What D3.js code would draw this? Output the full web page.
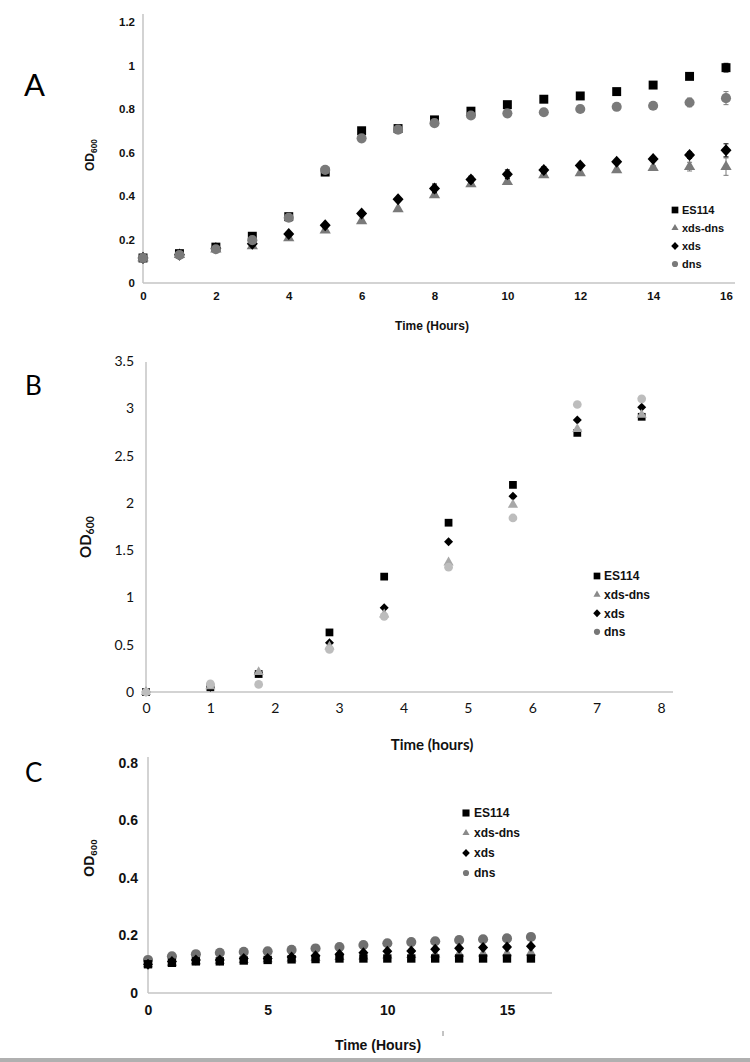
<!DOCTYPE html>
<html><head><meta charset="utf-8">
<script src="https://cdn.jsdelivr.net/npm/d3@7"></script>
<style>body{margin:0;background:#fff}svg{display:block}</style>
</head><body>
<svg id="c" width="750" height="1062"></svg>
<script>
// ---------- DATA ----------
const seriesNames = ["ES114", "xds-dns", "xds", "dns"];

// Panel A
const timeA = [0,1,2,3,4,5,6,7,8,9,10,11,12,13,14,15,16];
const A_ES114 = [0.115,0.135,0.165,0.215,0.305,0.51,0.70,0.71,0.75,0.79,0.82,0.845,0.86,0.88,0.91,0.95,0.99];
const A_xdsdns = [0.115,0.13,0.155,0.17,0.207,0.243,0.285,0.34,0.405,0.455,0.465,0.497,0.506,0.52,0.53,0.535,0.535];
const A_xds = [0.115,0.13,0.16,0.18,0.225,0.265,0.32,0.385,0.435,0.476,0.50,0.52,0.54,0.557,0.57,0.588,0.61];
const A_dns = [0.115,0.129,0.155,0.197,0.30,0.52,0.665,0.705,0.735,0.77,0.78,0.785,0.80,0.81,0.815,0.83,0.85];
const A_ES114_err = [0,0,0,0,0,0,0,0,0,0,0,0,0,0,0,0,0.02];
const A_xdsdns_err = [0,0,0,0,0,0,0,0,0,0,0,0,0,0,0.01,0.02,0.04];
const A_xds_err = [0,0,0,0,0,0,0,0,0.02,0.015,0.02,0.015,0,0,0,0.015,0.03];
const A_dns_err = [0,0,0,0,0,0,0,0,0,0,0.015,0.015,0,0,0,0.02,0.03];
const A_yTicks = [0,0.2,0.4,0.6,0.8,1,1.2];
const A_xTicks = [0,2,4,6,8,10,12,14,16];

// Panel B
const timeB = [0,1,1.75,2.85,3.7,4.7,5.7,6.7,7.7];
const B_ES114 = [0,0.05,0.19,0.63,1.22,1.79,2.19,2.74,2.91];
const B_xdsdns = [0,0.06,0.21,0.48,0.82,1.37,1.98,2.78,2.93];
const B_xds = [0,0.05,0.2,0.52,0.89,1.59,2.07,2.875,3.01];
const B_dns = [0,0.085,0.08,0.45,0.80,1.32,1.84,3.04,3.10];
const B_yTicks = [0,0.5,1,1.5,2,2.5,3,3.5];
const B_xTicks = [0,1,2,3,4,5,6,7,8];

// Panel C
const timeC = [0,1,2,3,4,5,6,7,8,9,10,11,12,13,14,15,16];
const C_ES114 = [0.10,0.105,0.11,0.11,0.113,0.115,0.117,0.118,0.12,0.12,0.12,0.12,0.12,0.12,0.12,0.12,0.12];
const C_xdsdns = [0.10,0.105,0.11,0.112,0.115,0.117,0.12,0.122,0.125,0.127,0.13,0.132,0.134,0.136,0.137,0.138,0.14];
const C_xds = [0.10,0.11,0.115,0.115,0.12,0.12,0.125,0.13,0.135,0.14,0.145,0.146,0.152,0.156,0.158,0.16,0.163];
const C_dns = [0.115,0.128,0.135,0.14,0.143,0.145,0.15,0.155,0.16,0.167,0.173,0.177,0.18,0.184,0.187,0.19,0.195];
const C_yTicks = [0,0.2,0.4,0.6,0.8];
const C_xTicks = [0,5,10,15];

// ---------- DRAWING ----------
const svg = d3.select("#c");
const axisColor = "#c4c4c4";

// size: for diamond -> [halfWidth, halfHeight]; else d3 symbol area
function marker(g, shape, x, y, size, fill) {
  let d;
  if (shape === "diamond") {
    const w = size[0], h = size[1];
    const p = d3.path();
    p.moveTo(0, -h); p.lineTo(w, 0); p.lineTo(0, h); p.lineTo(-w, 0); p.closePath();
    d = p.toString();
  } else {
    const sym = {square: d3.symbolSquare, triangle: d3.symbolTriangle, circle: d3.symbolCircle}[shape];
    d = d3.symbol().type(sym).size(size)();
  }
  g.append("path").attr("d", d).attr("transform", `translate(${x},${y})`).attr("fill", fill);
}

function panel(cfg) {
  const g = svg.append("g");
  const x = d3.scaleLinear().domain(cfg.xDomain).range([cfg.x0, cfg.x1]);
  const y = d3.scaleLinear().domain(cfg.yDomain).range([cfg.y0, cfg.y1]);
  g.append("line").attr("x1", cfg.x0).attr("x2", cfg.x0).attr("y1", cfg.y0).attr("y2", cfg.yTop)
    .attr("stroke", axisColor).attr("stroke-width", 1.5);
  g.append("line").attr("x1", cfg.x0).attr("x2", cfg.xEnd).attr("y1", cfg.y0).attr("y2", cfg.y0)
    .attr("stroke", axisColor).attr("stroke-width", 1.5);
  const yAx = d3.axisLeft(y).tickValues(cfg.yTicks).tickSize(0).tickPadding(cfg.yPad).tickFormat(d => String(d));
  const ya = g.append("g").attr("transform", `translate(${cfg.x0},0)`).call(yAx);
  ya.select(".domain").remove();
  ya.selectAll("text").attr("font-family", cfg.tickFont).attr("font-size", cfg.tickSize)
    .attr("font-weight", cfg.tickWeight).attr("fill", "#111");
  const xAx = d3.axisBottom(x).tickValues(cfg.xTicks).tickSize(0).tickPadding(cfg.xPad).tickFormat(d => String(d));
  const xa = g.append("g").attr("transform", `translate(0,${cfg.y0})`).call(xAx);
  xa.select(".domain").remove();
  xa.selectAll("text").attr("font-family", cfg.tickFont).attr("font-size", cfg.tickSize)
    .attr("font-weight", cfg.tickWeight).attr("fill", "#111");
  g.append("text").attr("x", cfg.xTitle[0]).attr("y", cfg.xTitle[1]).attr("text-anchor", "middle")
    .attr("font-family", cfg.titleFont).attr("font-size", cfg.titleSize).attr("font-weight", "bold")
    .attr("fill", "#111").text(cfg.xLabel);
  const yt = g.append("text").attr("transform", `translate(${cfg.yTitle[0]},${cfg.yTitle[1]}) rotate(-90)`)
    .attr("text-anchor", "middle").attr("font-family", cfg.titleFont).attr("font-size", cfg.titleSize)
    .attr("font-weight", "bold").attr("fill", "#111");
  yt.append("tspan").text("OD");
  yt.append("tspan").attr("font-size", cfg.titleSize * 0.7).attr("dy", 3).text("600");
  g.append("text").attr("x", cfg.letter[0]).attr("y", cfg.letter[1]).attr("font-family", "Lato, 'Open Sans', sans-serif")
    .attr("font-size", cfg.letter[2]).attr("fill", "#000").text(cfg.letterText);
  cfg.order.forEach(i => {
    const s = cfg.series[i];
    if (s.err) {
      s.values.forEach((v, k) => {
        if (s.err[k] > 0) {
          const xx = x(cfg.time[k]);
          g.append("line").attr("x1", xx).attr("x2", xx).attr("y1", y(v - s.err[k])).attr("y2", y(v + s.err[k]))
            .attr("stroke", s.fill).attr("stroke-width", 1);
          [v - s.err[k], v + s.err[k]].forEach(e => g.append("line").attr("x1", xx - 2.5).attr("x2", xx + 2.5)
            .attr("y1", y(e)).attr("y2", y(e)).attr("stroke", s.fill).attr("stroke-width", 1));
        }
      });
    }
    s.values.forEach((v, k) => marker(g, s.shape, x(cfg.time[k]), y(v), s.size, s.fill));
  });
  const L = cfg.legend;
  cfg.series.forEach((s, i) => {
    const ly = L.y + i * L.dy;
    marker(g, s.shape, L.x, ly, L.msize[i], L.colors[i]);
    g.append("text").attr("x", L.x + L.tx).attr("y", ly).attr("dy", "0.36em")
      .attr("font-family", "'Liberation Sans', Arial, sans-serif").attr("font-weight", "bold")
      .attr("font-size", L.fs).attr("fill", "#111").text(seriesNames[i]);
  });
}

const gA = "#7a7a7a";
panel({
  time: timeA, xDomain: [0, 16], yDomain: [0, 1.2],
  x0: 143, x1: 726, xEnd: 735, y0: 283, y1: 22, yTop: 14,
  yTicks: A_yTicks, xTicks: A_xTicks, yPad: 8, xPad: 9,
  tickFont: "'Liberation Sans', Arial, sans-serif", tickSize: 11.5, tickWeight: "bold",
  titleFont: "'Liberation Sans', Arial, sans-serif", titleSize: 12,
  xLabel: "Time (Hours)", xTitle: [432, 330], yTitle: [94, 155],
  letter: [24, 96, 31], letterText: "A",
  series: [
    {values: A_ES114, err: A_ES114_err, shape: "square", size: 80, fill: "#000"},
    {values: A_xdsdns, err: A_xdsdns_err, shape: "triangle", size: 55, fill: gA},
    {values: A_xds, err: A_xds_err, shape: "diamond", size: [5.5, 6], fill: "#000"},
    {values: A_dns, err: A_dns_err, shape: "circle", size: 80, fill: gA}
  ],
  order: [0, 1, 2, 3],
  legend: {x: 675, y: 210, dy: 18, tx: 7, fs: 11, msize: [45, 22, [3.8, 4], 30], colors: ["#000", gA, "#000", gA]}
});

panel({
  time: timeB, xDomain: [0, 8], yDomain: [0, 3.5],
  x0: 146, x1: 661, xEnd: 673, y0: 692, y1: 361, yTop: 362,
  yTicks: B_yTicks, xTicks: B_xTicks, yPad: 12, xPad: 11,
  tickFont: "Lato, 'Open Sans', sans-serif", tickSize: 14, tickWeight: "normal",
  titleFont: "Lato, 'Open Sans', sans-serif", titleSize: 15,
  xLabel: "Time (hours)", xTitle: [432, 750], yTitle: [91, 537],
  letter: [25, 395, 26], letterText: "B",
  series: [
    {values: B_ES114, shape: "square", size: 60, fill: "#000"},
    {values: B_xdsdns, shape: "triangle", size: 45, fill: "#a8a8a8"},
    {values: B_xds, shape: "diamond", size: [4.5, 4.5], fill: "#000"},
    {values: B_dns, shape: "circle", size: 60, fill: "#bdbdbd"}
  ],
  order: [0, 2, 1, 3],
  legend: {x: 597, y: 576, dy: 18.6, tx: 7, fs: 12, msize: [45, 22, [3.8, 4], 30], colors: ["#000", "#8a8a8a", "#000", "#777"]}
});

panel({
  time: timeC, xDomain: [0, 15], yDomain: [0, 0.8],
  x0: 148, x1: 507, xEnd: 552, y0: 993, y1: 763, yTop: 757,
  yTicks: C_yTicks, xTicks: C_xTicks, yPad: 10, xPad: 12,
  tickFont: "'Liberation Sans', Arial, sans-serif", tickSize: 14, tickWeight: "bold",
  titleFont: "'Liberation Sans', Arial, sans-serif", titleSize: 14,
  xLabel: "Time (Hours)", xTitle: [378, 1050], yTitle: [94, 858],
  letter: [25, 782, 26], letterText: "C",
  series: [
    {values: C_ES114, shape: "square", size: 70, fill: "#000"},
    {values: C_xdsdns, shape: "triangle", size: 45, fill: "#8a8a8a"},
    {values: C_xds, shape: "diamond", size: [5, 5.5], fill: "#000"},
    {values: C_dns, shape: "circle", size: 80, fill: "#707070"}
  ],
  order: [3, 1, 2, 0],
  legend: {x: 466, y: 813, dy: 20, tx: 8, fs: 12, msize: [50, 22, [3.8, 4], 30], colors: ["#000", "#8a8a8a", "#000", "#777"]}
});

svg.append("line").attr("x1", 443).attr("x2", 443).attr("y1", 1031).attr("y2", 1036).attr("stroke", "#888").attr("stroke-width", 1);
svg.append("rect").attr("x", 0).attr("y", 1058).attr("width", 750).attr("height", 4).attr("fill", "#b0b0b0");
</script>
</body></html>
